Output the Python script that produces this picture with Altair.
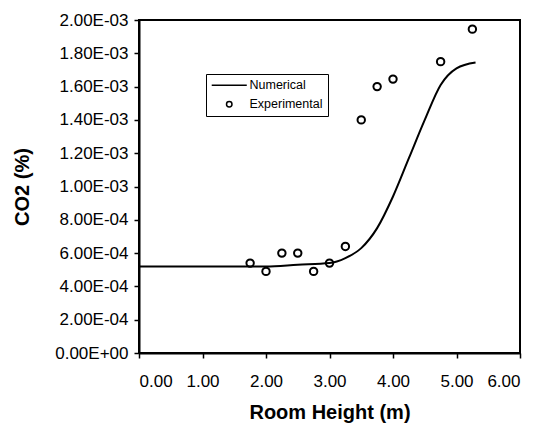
import json
import altair as alt
import pandas as pd

# Numerical prediction (line)
height_num = [0.0, 0.5, 1.0, 1.5, 2.0, 2.5, 3.0, 3.25, 3.5, 3.75, 4.0, 4.25, 4.5, 4.75, 5.0, 5.3]
co2_num = [5.2e-4, 5.2e-4, 5.2e-4, 5.2e-4, 5.2e-4, 5.3e-4, 5.4e-4, 5.7e-4, 6.3e-4, 7.5e-4,
           9.4e-4, 1.17e-3, 1.40e-3, 1.61e-3, 1.71e-3, 1.745e-3]

# Experimental measurements (open circles)
height_exp = [1.75, 2.0, 2.25, 2.5, 2.75, 3.0, 3.25, 3.5, 3.75, 4.0, 4.75, 5.25]
co2_exp = [5.4e-4, 4.9e-4, 6.0e-4, 6.0e-4, 4.9e-4, 5.4e-4, 6.4e-4, 1.40e-3, 1.60e-3,
           1.645e-3, 1.75e-3, 1.945e-3]

series_names = ["Numerical", "Experimental"]

x_ticks = [0, 1, 2, 3, 4, 5, 6]
y_ticks = [i * 2e-4 for i in range(11)]
y_tick_labels = ["0.00E+00", "2.00E-04", "4.00E-04", "6.00E-04", "8.00E-04", "1.00E-03",
                 "1.20E-03", "1.40E-03", "1.60E-03", "1.80E-03", "2.00E-03"]

num_df = pd.DataFrame({"h": height_num, "c": co2_num, "series": series_names[0]})
exp_df = pd.DataFrame({"h": height_exp, "c": co2_exp, "series": series_names[1]})

FONT = "Liberation Sans"

x_enc = alt.X("h:Q", scale=alt.Scale(domain=[0, 6], nice=False),
              axis=alt.Axis(values=x_ticks, format=".2f", title="Room Height (m)",
                            titleY=59, titleBaseline="middle"))
y_enc = alt.Y("c:Q", scale=alt.Scale(domain=[0, 2e-3], nice=False),
              axis=alt.Axis(values=y_ticks,
                            labelExpr=json.dumps(y_tick_labels) + "[round(datum.value * 5000)]",
                            title="CO2 (%)", titleX=-117, titleY=166.5,
                            titleBaseline="middle"))

line = alt.Chart(num_df).mark_line(color="black", strokeWidth=2, interpolate="monotone").encode(
    x=x_enc, y=y_enc
)

points = alt.Chart(exp_df).mark_point(
    shape="circle", filled=False, color="black", size=55, strokeWidth=2, opacity=1
).encode(
    x=x_enc,
    y=y_enc,
    shape=alt.Shape(
        "series:N",
        scale=alt.Scale(domain=series_names, range=["M-6.4,0H6.4", "circle"]),
        legend=alt.Legend(
            title=None, orient="none", legendX=67, legendY=54,
            strokeColor="black", padding=5, rowPadding=6,
            symbolSize=30, symbolStrokeColor="black", symbolStrokeWidth=1.5,
            symbolFillColor="transparent", symbolOffset=12,
            labelOffset=14, labelFontSize=12.5, labelFont=FONT,
        ),
    ),
)

chart = (
    alt.layer(line, points)
    .properties(
        width=381, height=333, autosize="none",
        padding={"left": 139, "top": 20, "right": 29, "bottom": 75},
    )
    .configure_view(stroke="black", strokeWidth=2)
    .configure_axis(
        grid=False, domainColor="black", domainWidth=2, tickColor="black", tickWidth=1.5,
        tickSize=5, labelFont=FONT, labelFontSize=17, labelColor="black",
        titleFont=FONT, titleFontSize=20, titleFontWeight="bold", titleColor="black",
    )
    .configure_axisY(labelPadding=6)
    .configure_axisX(labelPadding=15)
)

chart.save("out.html", embed_options={"renderer": "svg", "actions": False})
